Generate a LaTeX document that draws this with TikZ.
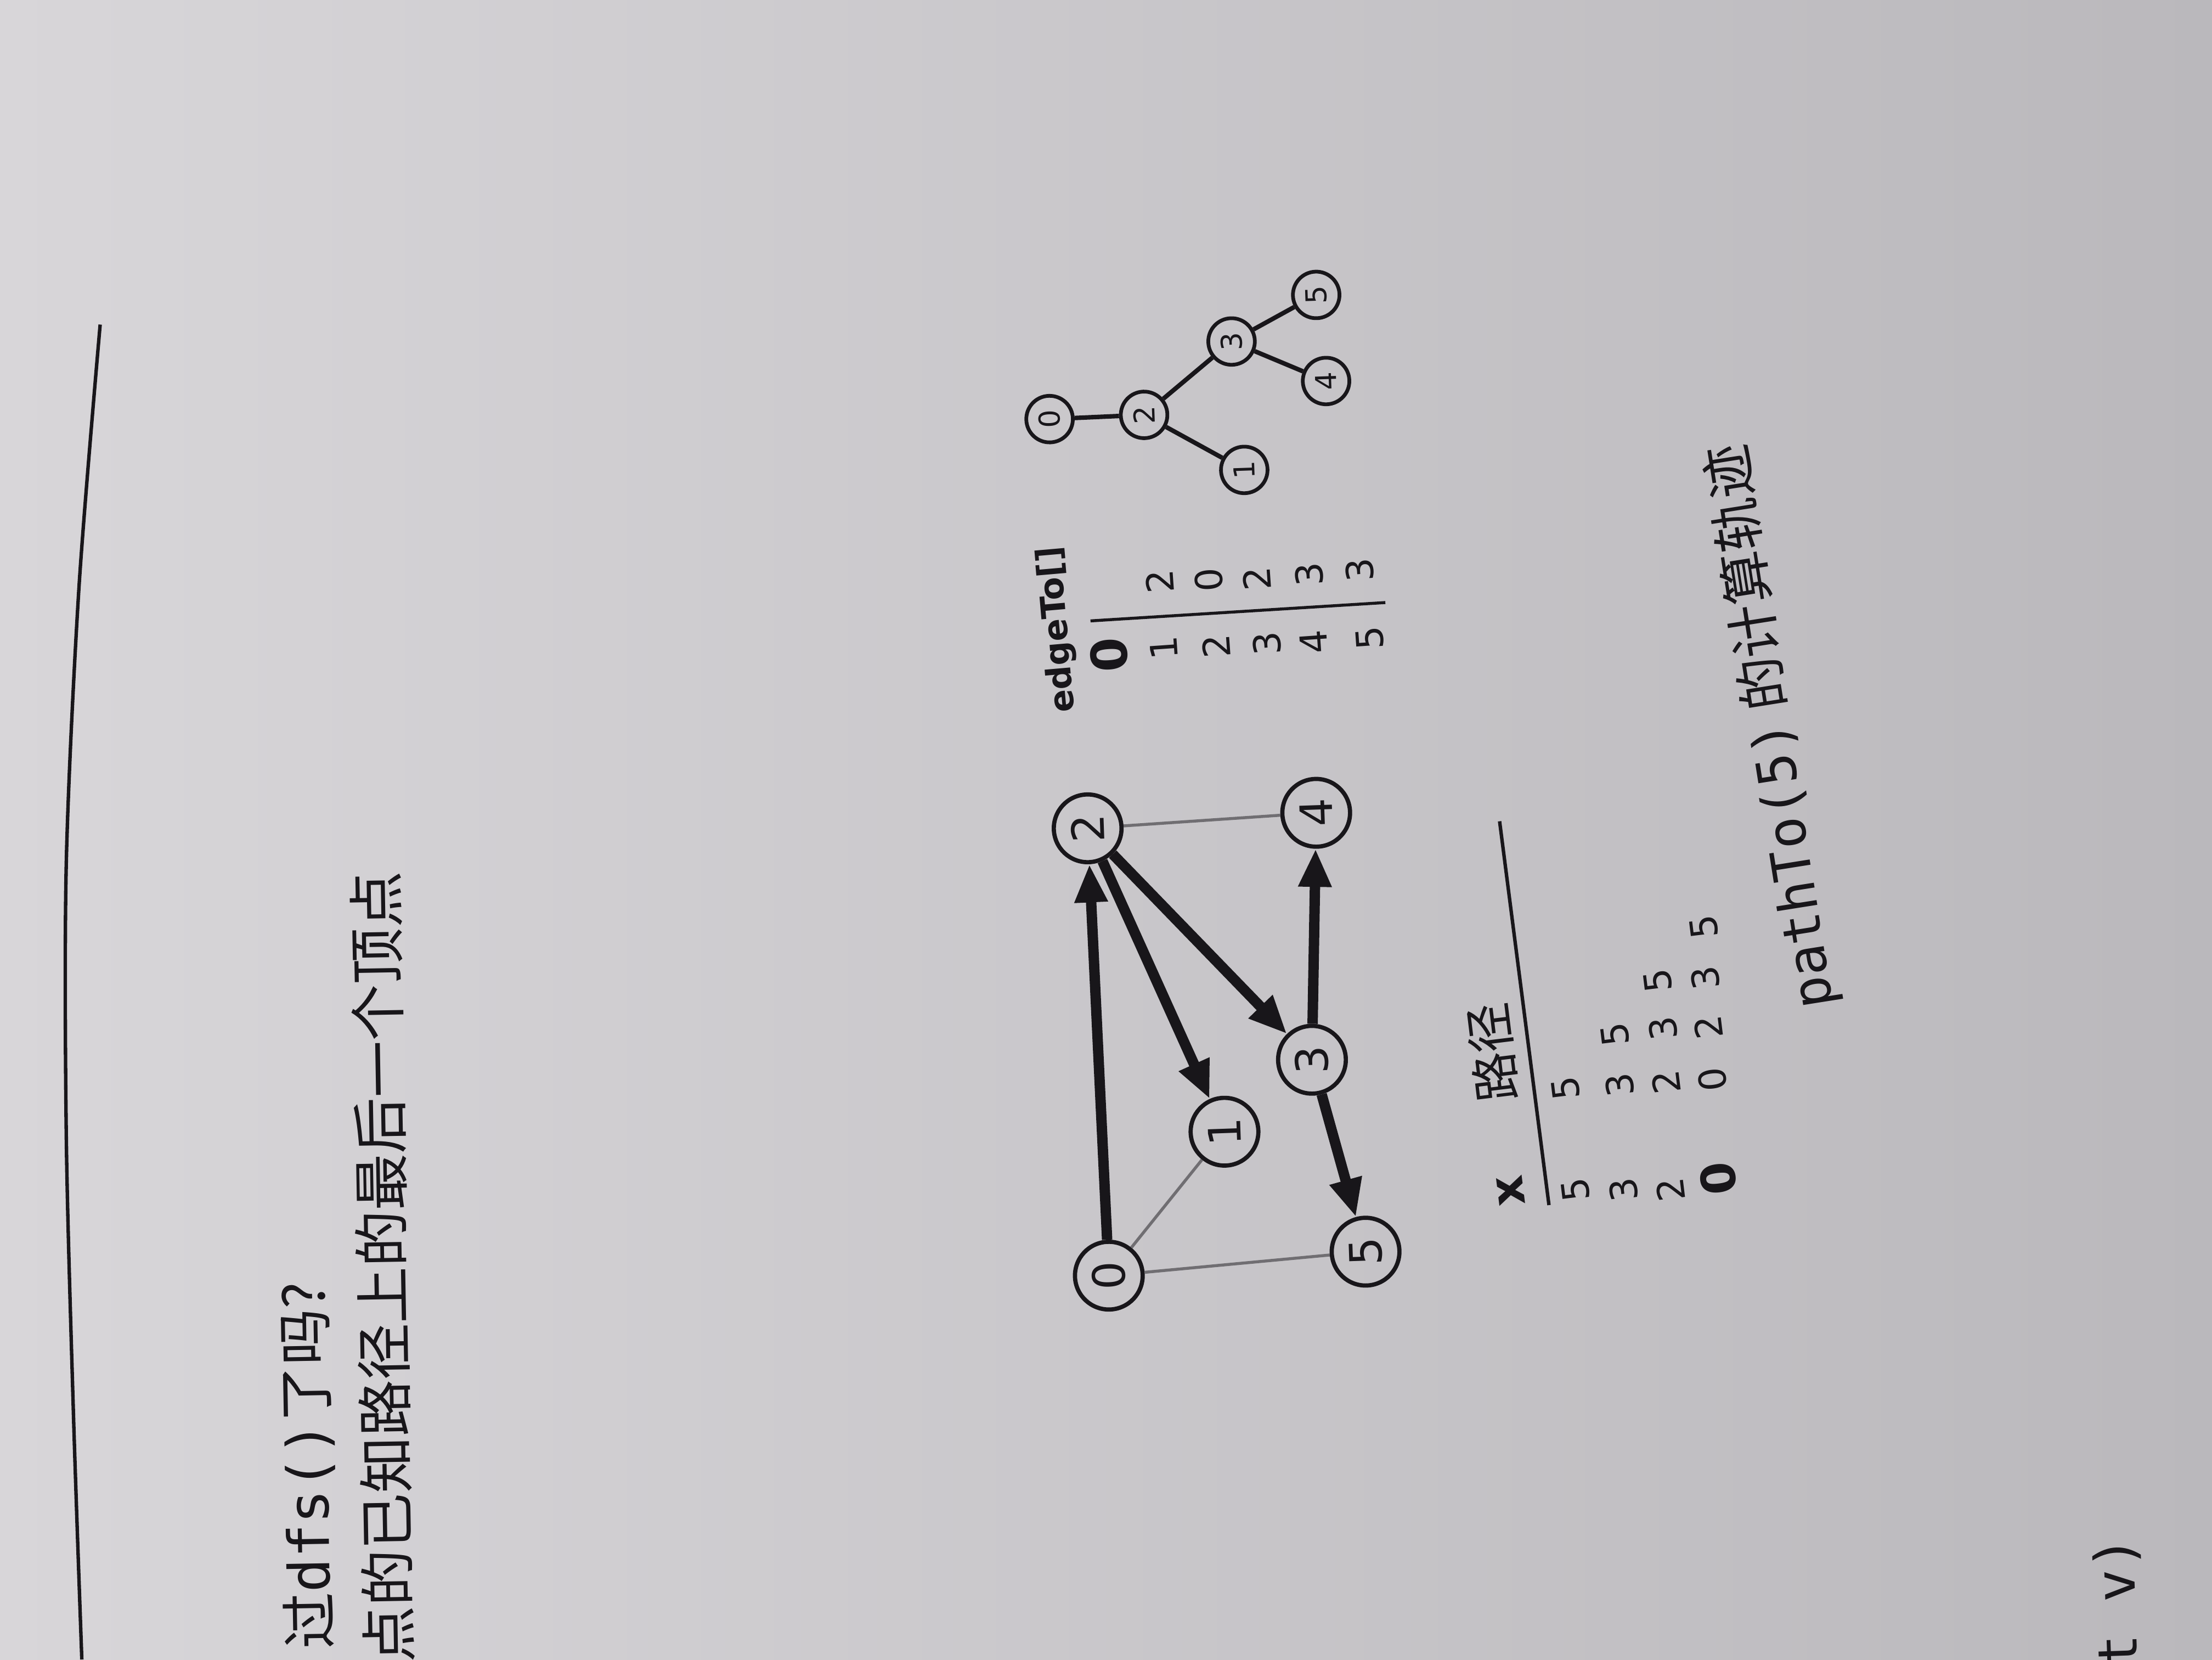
\documentclass[tikz,border=0pt]{standalone}
\usepackage{fontspec}
\setmainfont{DejaVu Sans}
\setmonofont{DejaVu Sans Mono}
\newfontfamily\cjk{Noto Sans CJK SC}
\usepackage{tikz}
\usetikzlibrary{arrows.meta}
\definecolor{ink}{RGB}{24,22,26}
\definecolor{pagel}{RGB}{216,214,217}
\definecolor{pager}{RGB}{186,184,188}
\definecolor{lightink}{RGB}{112,110,114}
\tikzstyle{vtx} = [circle, draw=ink, line width=0.85pt, minimum size=4.8mm, inner sep=0pt, font=\fontsize{9}{9}\selectfont, rotate=92]
\tikzstyle{tvtx} = [circle, draw=ink, line width=0.75pt, minimum size=3.3mm, inner sep=0pt, font=\fontsize{5.8}{5.8}\selectfont, rotate=92]
\tikzstyle{pathedge} = [draw=ink, line width=2.1pt, -{Triangle[length=2.7mm,width=2.2mm]}]
\tikzstyle{otheredge} = [draw=lightink, line width=0.6pt]
\tikzstyle{num} = [inner sep=0pt, font=\fontsize{7.5}{7.5}\selectfont]

\begin{document}
\begin{tikzpicture}[x=0.1mm,y=-0.1mm]
\tikzset{every node/.style={text=ink}}
\shade[left color=pagel, right color=pager] (0,0) rectangle (1568,1176);
\useasboundingbox (0,0) rectangle (1568,1176);
\clip (0,0) rectangle (1568,1176);

% page rule
\draw[ink, line width=0.7pt] plot[smooth] coordinates {(71,230) (56,416) (47,611) (47,806) (52,1000) (58,1176)};

% text lines above
\node[rotate=91, anchor=east, inner sep=0pt, font=\cjk\fontsize{11.4}{11.4}\selectfont] (q1) at (216,908) {过\texttt{dfs()}了吗?};
\node[rotate=91, anchor=east, inner sep=0pt, font=\cjk\fontsize{11.4}{11.4}\selectfont] (q2) at (266,617) {点的已知路径上的最后一个顶点};

% graph
\node[vtx] (g0) at (786,904) {0};
\node[vtx] (g1) at (868,802) {1};
\node[vtx] (g2) at (771,587) {2};
\node[vtx] (g3) at (930,751) {3};
\node[vtx] (g4) at (933,576) {4};
\node[vtx] (g5) at (968,887) {5};

\foreach \from/\to in {g0/g1,g0/g5,g2/g4}
{
	\draw[otheredge] (\from) -- (\to);
}
\foreach \from/\to in {g0/g2,g2/g1,g2/g3,g3/g4,g3/g5}
{
	\draw[pathedge] (\from) -- (\to);
}

% edgeTo[]
\node[rotate=95, inner sep=0pt, font=\bfseries\fontsize{6.8}{6.8}\selectfont] (etitle) at (750,446) {edgeTo[]};
\node[num, rotate=94, font=\bfseries\fontsize{10}{10}\selectfont] (ei0) at (786,464) {0};
\foreach \i/\px/\py in {1/825/459,2/862/458,3/898/456,4/931/455,5/971/452}
{
	\node[num, rotate=94] (ei\i) at (\px,\py) {\i};
}
\foreach \i/\v/\px/\py in {1/2/822/412,2/0/857/411,3/2/891/410,4/3/928/407,5/3/964/404}
{
	\node[num, rotate=94] (ev\i) at (\px,\py) {\v};
}
\draw[ink, line width=0.6pt] (773,440) -- (982,427);

% tree
\node[tvtx] (t0) at (744,297) {0};
\node[tvtx] (t1) at (882,333) {1};
\node[tvtx] (t2) at (811,294) {2};
\node[tvtx] (t3) at (873,242) {3};
\node[tvtx] (t4) at (940,270) {4};
\node[tvtx] (t5) at (933,209) {5};

\foreach \from/\to in {t0/t2,t2/t1,t2/t3,t3/t4,t3/t5}
{
	\draw[ink, line width=0.9pt] (\from) -- (\to);
}

% trace of pathTo(5)
\node[num, rotate=97, font=\bfseries\fontsize{9.5}{9.5}\selectfont] (xh) at (1071,844) {x};
\node[num, rotate=97, font=\cjk\fontsize{10}{10}\selectfont] (ph) at (1058,746) {路径};
\draw[ink, line width=0.7pt] (1063,582) -- (1098,854);
\foreach \n/\v/\px/\py in {x1/5/1117/843,x2/3/1151/843,x3/2/1184/843}
{
	\node[num, rotate=97] (\n) at (\px,\py) {\v};
}
\node[num, rotate=97, font=\bfseries\fontsize{9.5}{9.5}\selectfont] (x4) at (1218,835) {0};
\foreach \n/\v/\px/\py in {p11/5/1110/771,
	p21/3/1148/769,p22/5/1145/733,
	p31/2/1181/767,p32/3/1179/729,p33/5/1175/695,
	p41/0/1214/765,p42/2/1211/728,p43/3/1209/693,p44/5/1208/657}
{
	\node[num, rotate=97] (\n) at (\px,\py) {\v};
}
\node[rotate=99, inner sep=0pt, font=\cjk\fontsize{10.8}{10.8}\selectfont] (cap) at (1256,515) {\texttt{pathTo(5)} 的计算轨迹};

% cut-off line at page foot
\node[rotate=92, anchor=east, inner sep=0pt, font=\ttfamily\fontsize{11}{11}\selectfont] (tail) at (1500,1088) {t v)};
\end{tikzpicture}
\end{document}
